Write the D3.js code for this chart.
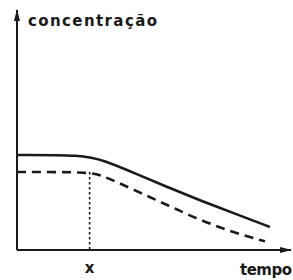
<!DOCTYPE html>
<html>
<head>
<meta charset="utf-8">
<script src="https://cdn.jsdelivr.net/npm/d3@7"></script>
<style>
	body { margin: 0; background: #fff; }
	svg { display: block; }
</style>
</head>
<body>
<svg id="chart" width="293" height="280"></svg>
<script>
// solid curve (upper)
var solidTime = [0, 24, 31.4, 43.8, 55.8, 67.9, 80.3, 92.3];
var solidConc = [39.6, 39.6, 37.5, 31.6, 25.8, 20.2, 14.8, 9.6];
// dashed curve (lower)
var dashTime = [0, 26, 30.3, 36.5, 43.8, 50.4, 57.7, 64.6, 72.6, 79.6, 88, 90.5];
var dashConc = [32.5, 32.5, 31.3, 28.3, 24.5, 21, 17.3, 13.6, 10, 7.2, 4.4, 3.6];
// marker on the time axis
var markTime = [26.5];
var markLabels = ["x"];
var axisLabels = ["concentração", "tempo"];

var svg = d3.select("#chart");
var x = d3.scaleLinear().domain([0, 100]).range([17, 291]);
var y = d3.scaleLinear().domain([0, 100]).range([250, 10]);

var ink = "#1a1a1a";

var defs = svg.append("defs");
defs.append("marker").attr("id", "arr")
	.attr("viewBox", "0 0 12 6").attr("refX", 11).attr("refY", 3)
	.attr("markerWidth", 12).attr("markerHeight", 6)
	.attr("markerUnits", "userSpaceOnUse")
	.attr("orient", "auto")
	.append("path").attr("d", "M0,0 L12,3 L0,6 Z").attr("fill", ink);

// axes
svg.append("line")
	.attr("x1", x(0)).attr("y1", y(0)).attr("x2", x(0)).attr("y2", y(100))
	.attr("stroke", ink).attr("stroke-width", 2).attr("marker-end", "url(#arr)");
svg.append("line")
	.attr("x1", x(0)).attr("y1", y(0)).attr("x2", x(100)).attr("y2", y(0))
	.attr("stroke", ink).attr("stroke-width", 2).attr("marker-end", "url(#arr)");

// dotted marker line
svg.selectAll(".mark").data(markTime).enter().append("line")
	.attr("class", "mark")
	.attr("x1", function(d){ return x(d); }).attr("x2", function(d){ return x(d); })
	.attr("y1", y(dashConc[0])).attr("y2", y(0))
	.attr("stroke", ink).attr("stroke-width", 1.6)
	.attr("stroke-dasharray", "2.5,2.5");

var line = d3.line()
	.x(function(d){ return x(d[0]); })
	.y(function(d){ return y(d[1]); })
	.curve(d3.curveBasis);

svg.append("path")
	.datum(d3.zip(solidTime, solidConc))
	.attr("d", line)
	.attr("fill", "none").attr("stroke", ink).attr("stroke-width", 2.6);

svg.append("path")
	.datum(d3.zip(dashTime, dashConc))
	.attr("d", line)
	.attr("fill", "none").attr("stroke", ink).attr("stroke-width", 2.6)
	.attr("stroke-dasharray", "9,6");

// labels
svg.selectAll(".mlabel").data(markLabels).enter().append("text")
	.attr("class", "mlabel")
	.attr("x", function(d, i){ return x(markTime[i]); })
	.attr("y", 273)
	.attr("text-anchor", "middle")
	.style("font-family", "DejaVu Sans")
	.style("font-weight", "bold")
	.style("font-size", "15px")
	.attr("fill", ink)
	.text(function(d){ return d; });

svg.append("text")
	.attr("x", 28).attr("y", 26)
	.attr("textLength", 129).attr("lengthAdjust", "spacing")
	.style("font-family", "DejaVu Sans")
	.style("font-weight", "bold")
	.style("font-size", "15px")
	.attr("fill", ink)
	.text(axisLabels[0]);

svg.append("text")
	.attr("x", 240).attr("y", 275)
	.attr("textLength", 52).attr("lengthAdjust", "spacing")
	.style("font-family", "DejaVu Sans")
	.style("font-weight", "bold")
	.style("font-size", "15px")
	.attr("fill", ink)
	.text(axisLabels[1]);
</script>
</body>
</html>
